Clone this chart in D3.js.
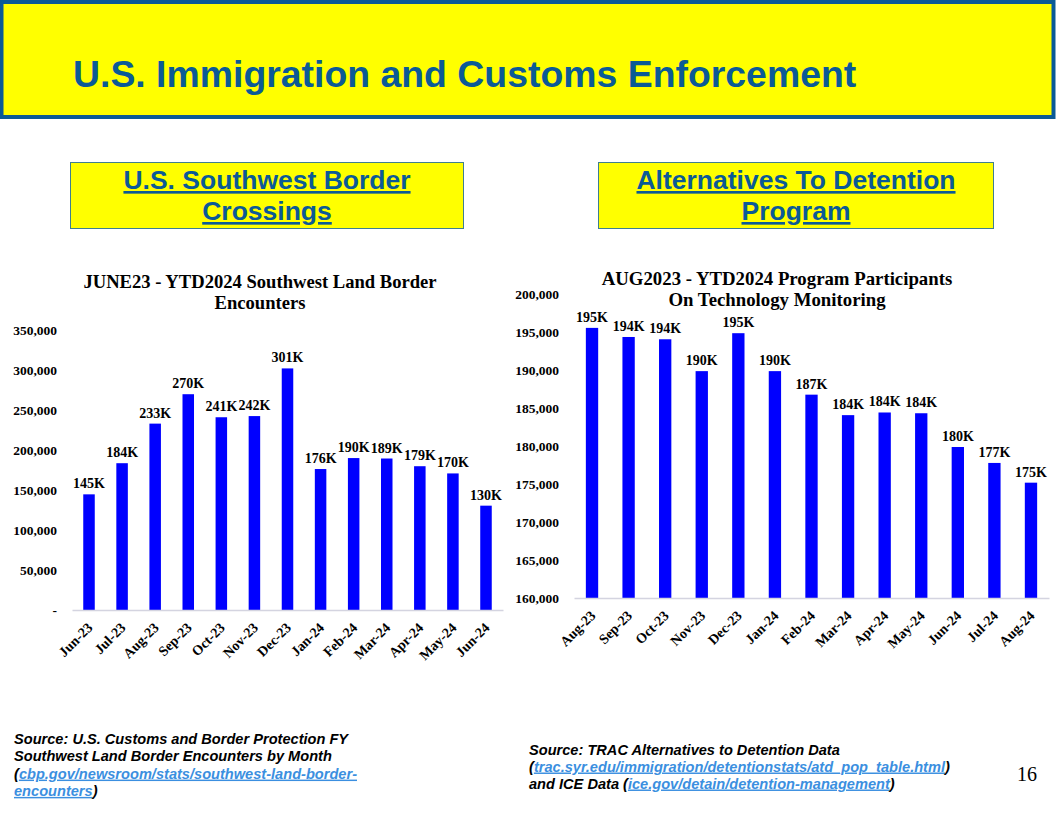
<!DOCTYPE html>
<html>
<head>
<meta charset="utf-8">
<script src="https://cdn.jsdelivr.net/npm/d3@7"></script>
<style>
  body { margin: 0; background: #fff; }
  svg { display: block; }
  .serif { font-family: "Liberation Serif", "Times New Roman", serif; font-weight: bold; fill: #000; }
  .sans { font-family: "Liberation Sans", Arial, sans-serif; }
</style>
</head>
<body>
<div id="canvas"></div>
<script>
// southwest border encounters, per month
const swMonths = ["Jun-23", "Jul-23", "Aug-23", "Sep-23", "Oct-23", "Nov-23", "Dec-23",
  "Jan-24", "Feb-24", "Mar-24", "Apr-24", "May-24", "Jun-24"];
const swValues = [144571, 183503, 232972, 269735, 240936, 242399, 301981,
  176205, 189913, 189359, 179737, 170716, 130415];
const swLabels = ["145K", "184K", "233K", "270K", "241K", "242K", "301K",
  "176K", "190K", "189K", "179K", "170K", "130K"];
const swTicks = [0, 50000, 100000, 150000, 200000, 250000, 300000, 350000];

// ATD participants on technology monitoring
const atdMonths = ["Aug-23", "Sep-23", "Oct-23", "Nov-23", "Dec-23", "Jan-24", "Feb-24",
  "Mar-24", "Apr-24", "May-24", "Jun-24", "Jul-24", "Aug-24"];
const atdValues = [195600, 194400, 194100, 189900, 194900, 189900, 186800,
  184100, 184450, 184350, 179900, 177800, 175200];
const atdLabels = ["195K", "194K", "194K", "190K", "195K", "190K", "187K",
  "184K", "184K", "184K", "180K", "177K", "175K"];
const atdTicks = [160000, 165000, 170000, 175000, 180000, 185000, 190000, 195000, 200000];

const width = 1056;
const height = 816;
const blue = "#0b5a96";

const svg = d3.select("#canvas").append("svg")
  .attr("width", width)
  .attr("height", height);

// header banner
svg.append("rect")
  .attr("x", 1.5).attr("y", 2).attr("width", 1052).attr("height", 115)
  .attr("fill", "#ffff00").attr("stroke", blue).attr("stroke-width", 4);
svg.append("text")
  .attr("class", "sans")
  .attr("x", 73).attr("y", 87)
  .attr("font-size", 37.4).attr("font-weight", "bold").attr("fill", blue)
  .text("U.S. Immigration and Customs Enforcement");

// section boxes
function sectionBox(x, w, lines) {
  svg.append("rect")
    .attr("x", x).attr("y", 162.5).attr("width", w).attr("height", 66)
    .attr("fill", "#ffff00").attr("stroke", "#3f7f8f").attr("stroke-width", 1);
  lines.forEach((t, i) => {
    svg.append("text")
      .attr("class", "sans")
      .attr("x", x + w / 2).attr("y", 189 + i * 31)
      .attr("text-anchor", "middle")
      .attr("font-size", 26.5).attr("font-weight", "bold").attr("fill", blue)
      .attr("text-decoration", "underline")
      .text(t);
  });
}
sectionBox(70.5, 393, ["U.S. Southwest Border", "Crossings"]);
sectionBox(598.5, 395, ["Alternatives To Detention", "Program"]);

function barChart(opt) {
  const x = d3.scaleBand()
    .domain(opt.months)
    .range(opt.xRange)
    .paddingInner(opt.padIn)
    .paddingOuter(opt.padOut);

  const y = d3.scaleLinear()
    .domain(opt.yDomain)
    .range(opt.yRange);

  const g = svg.append("g");

  opt.title.forEach((t, i) => {
    g.append("text")
      .attr("class", "serif")
      .attr("x", opt.titleX).attr("y", opt.titleY + i * 21)
      .attr("text-anchor", "middle")
      .attr("font-size", opt.titleSize)
      .text(t);
  });

  // y labels only, no line and no ticks
  const yAxis = g.append("g")
    .attr("transform", `translate(${opt.xRange[0]},0)`)
    .call(d3.axisLeft(y).tickValues(opt.ticks).tickSize(0).tickPadding(opt.yPad)
      .tickFormat(opt.yFormat));
  yAxis.select(".domain").remove();
  yAxis.selectAll("text")
    .attr("class", "serif")
    .attr("font-size", 13.5);

  g.selectAll("rect.bar")
    .data(opt.values)
    .enter().append("rect")
    .attr("class", "bar")
    .attr("fill", "#0000ff")
    .attr("x", (d, i) => x(opt.months[i]))
    .attr("y", d => y(d))
    .attr("width", x.bandwidth())
    .attr("height", d => opt.yRange[0] - y(d));

  g.selectAll("text.lbl")
    .data(opt.values)
    .enter().append("text")
    .attr("class", "serif lbl")
    .attr("x", (d, i) => x(opt.months[i]) + x.bandwidth() / 2)
    .attr("y", d => y(d) - 6)
    .attr("text-anchor", "middle")
    .attr("font-size", 14)
    .text((d, i) => opt.labels[i]);

  const xAxis = g.append("g")
    .attr("transform", `translate(0,${opt.yRange[0]})`)
    .call(d3.axisBottom(x).tickSize(0).tickSizeOuter(0));
  xAxis.select(".domain").attr("stroke", "#d4d4e0").attr("stroke-width", 1.5);
  xAxis.selectAll("text")
    .attr("class", "serif")
    .attr("font-size", 14)
    .attr("y", 0).attr("dy", "0.35em")
    .attr("text-anchor", "end")
    .attr("transform", "translate(1,15) rotate(-45)");
}

barChart({
  months: swMonths, values: swValues, labels: swLabels, ticks: swTicks,
  xRange: [72, 503], padIn: 0.652, padOut: 0.34,
  yDomain: [0, 350000], yRange: [610, 330], yPad: 15,
  yFormat: d => d === 0 ? "-" : d3.format(",")(d),
  title: ["JUNE23 - YTD2024 Southwest Land Border", "Encounters"],
  titleX: 260, titleY: 288, titleSize: 18.6
});

barChart({
  months: atdMonths, values: atdValues, labels: atdLabels, ticks: atdTicks,
  xRange: [574, 1049], padIn: 0.663, padOut: 0.324,
  yDomain: [160000, 200000], yRange: [598, 294.5], yPad: 15,
  yFormat: d3.format(","),
  title: ["AUG2023 - YTD2024 Program Participants", "On Technology Monitoring"],
  titleX: 777, titleY: 285, titleSize: 18.8
});

// sources
const linkBlue = "#3b8fe0";
function sourceBlock(x, y0, step, lines) {
  lines.forEach((parts, i) => {
    const t = svg.append("text")
      .attr("class", "sans")
      .attr("x", x).attr("y", y0 + i * step)
      .attr("font-size", 14.6).attr("font-weight", "bold").attr("font-style", "italic")
      .attr("fill", "#000");
    parts.forEach(p => {
      const s = t.append("tspan").text(p.t);
      if (p.link) s.attr("fill", linkBlue).attr("text-decoration", "underline");
    });
  });
}
sourceBlock(14, 744, 17.3, [
  [{ t: "Source: U.S. Customs and Border Protection FY" }],
  [{ t: "Southwest Land Border Encounters by Month" }],
  [{ t: "(" }, { t: "cbp.gov/newsroom/stats/southwest-land-border-", link: true }],
  [{ t: "encounters", link: true }, { t: ")" }]
]);
sourceBlock(529, 754.5, 17, [
  [{ t: "Source: TRAC Alternatives to Detention Data" }],
  [{ t: "(" }, { t: "trac.syr.edu/immigration/detentionstats/atd_pop_table.html", link: true }, { t: ")" }],
  [{ t: "and ICE Data (" }, { t: "ice.gov/detain/detention-management", link: true }, { t: ")" }]
]);

svg.append("text")
  .attr("x", 1017).attr("y", 781)
  .attr("font-family", "\"Liberation Serif\", serif")
  .attr("font-size", 20)
  .text("16");
</script>
</body>
</html>
